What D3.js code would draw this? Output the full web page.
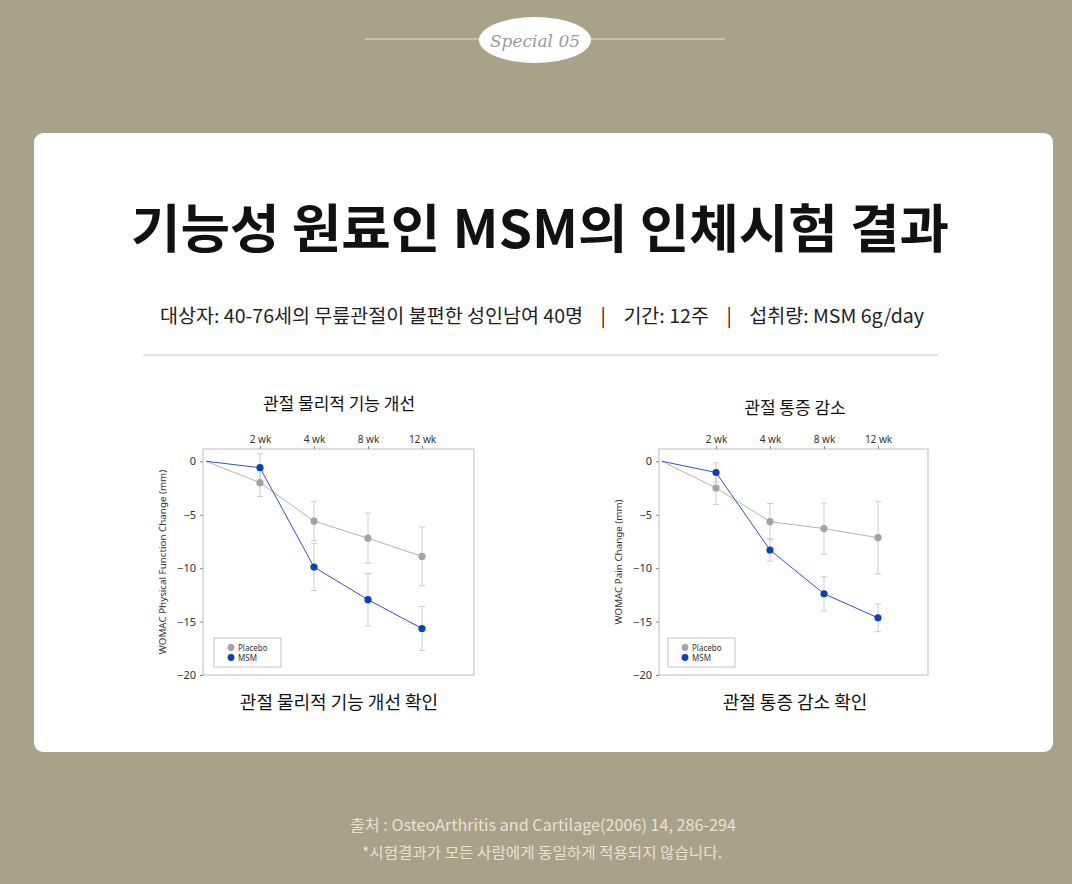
<!DOCTYPE html>
<html>
<head>
<meta charset="utf-8">
<script src="https://cdn.jsdelivr.net/npm/d3@7"></script>
<style>
  body { margin: 0; background: #a7a288; }
  svg { display: block; }
  text { font-family: "Noto Sans CJK KR", "Noto Sans", sans-serif; white-space: pre; }
</style>
</head>
<body>
<svg id="page"></svg>
<script>
// data
let weeks = ["0", "2 wk", "4 wk", "8 wk", "12 wk"]
let funcPlacebo = [0, -2.0, -5.6, -7.2, -8.9]
let funcPlaceboErr = [0, 1.3, 1.85, 2.35, 2.75]
let funcMsm = [0, -0.6, -9.9, -12.95, -15.65]
let funcMsmErr = [0, 1.3, 2.2, 2.45, 2.05]
let painPlacebo = [0, -2.5, -5.65, -6.3, -7.15]
let painPlaceboErr = [0, 1.55, 1.7, 2.4, 3.4]
let painMsm = [0, -1.05, -8.3, -12.4, -14.65]
let painMsmErr = [0, 0.9, 1.05, 1.6, 1.3]
let yTicks = [0, -5, -10, -15, -20]
let legendNames = ["Placebo", "MSM"]

let width = 1072
let height = 884
let colPlacebo = "#a3a3a3"
let colMsm = "#0a3fbd"

let svg = d3.select("#page").attr("width", width).attr("height", height)

// top badge
svg.append("line").attr("x1", 365).attr("x2", 725).attr("y1", 39).attr("y2", 39)
  .attr("stroke", "#e4e0c8").attr("stroke-width", 1)
svg.append("ellipse").attr("cx", 535).attr("cy", 40).attr("rx", 56).attr("ry", 23).attr("fill", "#fff")
svg.append("text").attr("x", 535).attr("y", 47).attr("text-anchor", "middle")
  .style("font-family", "'DejaVu Serif', serif").style("font-style", "italic")
  .attr("font-size", 17).attr("fill", "#9a9a9a").text("Special 05")

// card
svg.append("rect").attr("x", 34).attr("y", 133).attr("width", 1019).attr("height", 619)
  .attr("rx", 9).attr("fill", "#fff")

svg.append("text").attr("x", 540).attr("y", 248).attr("text-anchor", "middle")
  .attr("font-size", 52).attr("font-weight", 700).attr("fill", "#111")
  .attr("textLength", 818).attr("lengthAdjust", "spacingAndGlyphs")
  .text("기능성 원료인 MSM의 인체시험 결과")

svg.append("text").attr("x", 542).attr("y", 323).attr("text-anchor", "middle")
  .attr("font-size", 19).attr("fill", "#222")
  .attr("textLength", 764).attr("lengthAdjust", "spacingAndGlyphs")
  .text("대상자: 40-76세의 무릎관절이 불편한 성인남여 40명    |    기간: 12주    |    섭취량: MSM 6g/day")

svg.append("line").attr("x1", 143).attr("x2", 938).attr("y1", 355).attr("y2", 355)
  .attr("stroke", "#c8c8c8")

let drawChart = (opt) => {
  let xScale = d3.scaleLinear().domain([0, weeks.length - 1]).range([opt.left + 3, opt.left + 3 + 54 * 4])
  let yScale = d3.scaleLinear().domain([-20, 1.15]).range([675, 449])
  let g = svg.append("g")

  g.append("rect").attr("x", opt.left).attr("y", 449).attr("width", opt.w).attr("height", 226)
    .attr("fill", "none").attr("stroke", "#bdbdbd")

  let topAxis = d3.axisTop(xScale).tickValues([1, 2, 3, 4])
    .tickFormat((i) => weeks[i]).tickSize(3).tickPadding(3)
  let ta = g.append("g").attr("transform", "translate(0,449)").call(topAxis)
  ta.select(".domain").remove()
  ta.selectAll("line").attr("stroke", "#888")
  ta.selectAll("text").attr("font-size", 10).attr("fill", "#333")
    .style("font-family", "'Noto Sans', sans-serif")

  let leftAxis = d3.axisLeft(yScale).tickValues(yTicks).tickSize(3).tickPadding(4)
  let la = g.append("g").attr("transform", "translate(" + opt.left + ",0)").call(leftAxis)
  la.select(".domain").remove()
  la.selectAll("line").attr("stroke", "#888")
  la.selectAll("text").attr("font-size", 11).attr("fill", "#333")
    .style("font-family", "'Noto Sans', sans-serif")

  g.append("text").attr("transform", "translate(" + (opt.left - 37) + ",562) rotate(-90)")
    .attr("text-anchor", "middle").attr("font-size", 9.8).attr("fill", "#333")
    .style("font-family", "'Noto Sans', sans-serif")
    .text(opt.yLabel)

  let series = [
    { vals: opt.placebo, err: opt.placeboErr, col: colPlacebo, line: "#b3b3b3" },
    { vals: opt.msm, err: opt.msmErr, col: colMsm, line: "#2a55c4" }
  ]

  // error bars
  series.forEach((s) => {
    s.vals.forEach((v, i) => {
      if (i === 0) return
      let x = xScale(i)
      g.append("line").attr("x1", x).attr("x2", x)
        .attr("y1", yScale(v + s.err[i])).attr("y2", yScale(v - s.err[i]))
        .attr("stroke", "#cccccc")
      ;[v + s.err[i], v - s.err[i]].forEach((e) => {
        g.append("line").attr("x1", x - 3).attr("x2", x + 3)
          .attr("y1", yScale(e)).attr("y2", yScale(e)).attr("stroke", "#cccccc")
      })
    })
  })

  let line = d3.line().x((d, i) => xScale(i)).y((d) => yScale(d))
  series.forEach((s) => {
    g.append("path").datum(s.vals).attr("d", line)
      .attr("fill", "none").attr("stroke", s.line).attr("stroke-width", 1)
    g.selectAll(null).data(s.vals.slice(1)).enter().append("circle")
      .attr("cx", (d, i) => xScale(i + 1)).attr("cy", (d) => yScale(d))
      .attr("r", 3.6).attr("fill", s.col)
  })

  // legend
  let lg = g.append("g").attr("transform", "translate(" + opt.legendX + ",638)")
  lg.append("rect").attr("width", 67).attr("height", 29).attr("fill", "#fff").attr("stroke", "#c4c4c4")
  legendNames.forEach((n, i) => {
    lg.append("circle").attr("cx", 17).attr("cy", 9.5 + i * 10).attr("r", 3.4)
      .attr("fill", i === 0 ? colPlacebo : colMsm)
    lg.append("text").attr("x", 24).attr("y", 12.5 + i * 10).attr("font-size", 8)
      .attr("fill", "#333").style("font-family", "'Noto Sans', sans-serif").text(n)
  })

  svg.append("text").attr("x", opt.titleX).attr("y", opt.titleY).attr("text-anchor", "middle")
    .attr("font-size", 17).attr("font-weight", 400).attr("fill", "#111").text(opt.title)
  svg.append("text").attr("x", opt.titleX).attr("y", 709).attr("text-anchor", "middle")
    .attr("font-size", 18).attr("font-weight", 400).attr("fill", "#111").text(opt.caption)
}

drawChart({
  left: 203, w: 271, legendX: 214,
  placebo: funcPlacebo, placeboErr: funcPlaceboErr, msm: funcMsm, msmErr: funcMsmErr,
  yLabel: "WOMAC Physical Function Change (mm)",
  title: "관절 물리적 기능 개선", titleX: 339, titleY: 410, caption: "관절 물리적 기능 개선 확인"
})
drawChart({
  left: 659, w: 269, legendX: 668,
  placebo: painPlacebo, placeboErr: painPlaceboErr, msm: painMsm, msmErr: painMsmErr,
  yLabel: "WOMAC Pain Change (mm)",
  title: "관절 통증 감소", titleX: 795, titleY: 414, caption: "관절 통증 감소 확인"
})

// footer
svg.append("text").attr("x", 543).attr("y", 831).attr("text-anchor", "middle")
  .attr("font-size", 16).attr("fill", "#e6e3d3")
  .attr("textLength", 386).attr("lengthAdjust", "spacingAndGlyphs")
  .text("출처 : OsteoArthritis and Cartilage(2006) 14, 286-294")
svg.append("text").attr("x", 542).attr("y", 858).attr("text-anchor", "middle")
  .attr("font-size", 15).attr("fill", "#e6e3d3")
  .attr("textLength", 360).attr("lengthAdjust", "spacingAndGlyphs")
  .text("*시험결과가 모든 사람에게 동일하게 적용되지 않습니다.")
</script>
</body>
</html>
